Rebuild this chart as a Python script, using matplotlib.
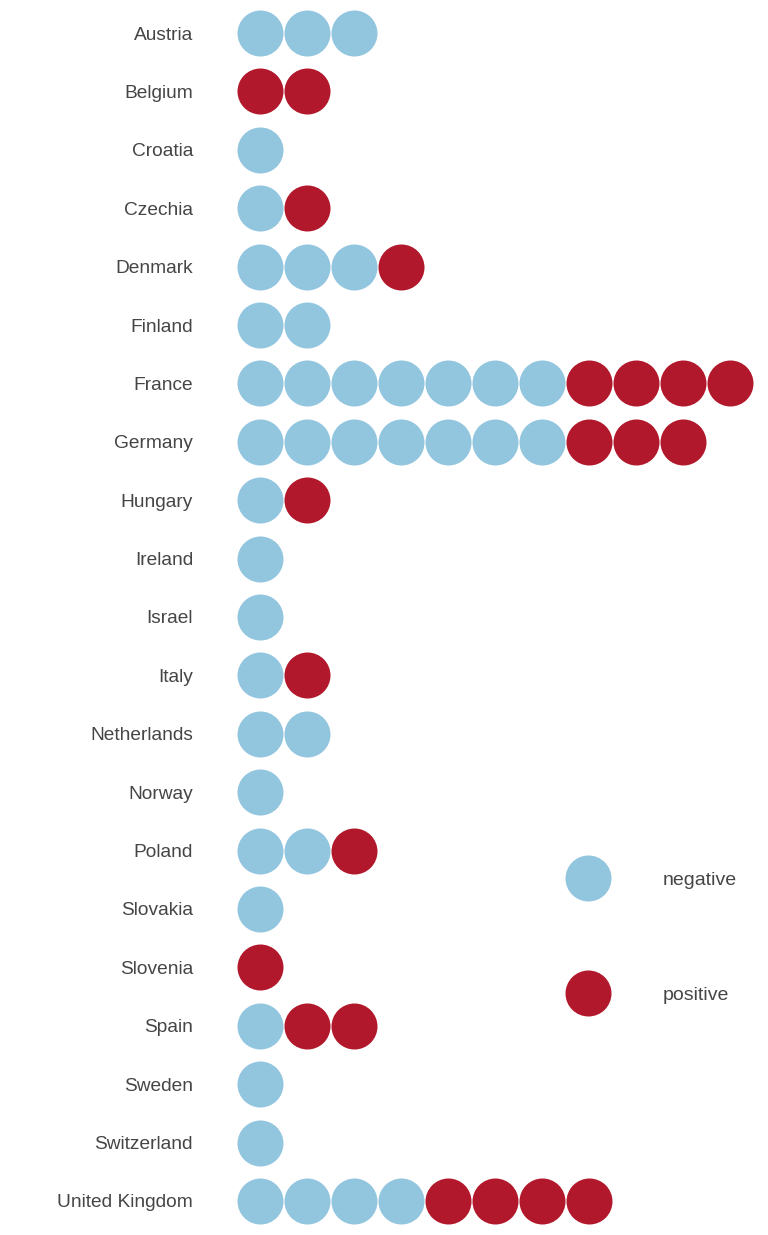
import matplotlib
matplotlib.use("Agg")
import matplotlib.pyplot as plt
from matplotlib.lines import Line2D

# counts of negative / positive per country (one circle each)
countries = ["Austria", "Belgium", "Croatia", "Czechia", "Denmark", "Finland",
             "France", "Germany", "Hungary", "Ireland", "Israel", "Italy",
             "Netherlands", "Norway", "Poland", "Slovakia", "Slovenia", "Spain",
             "Sweden", "Switzerland", "United Kingdom"]
negative = [3, 0, 1, 1, 3, 2, 7, 7, 1, 1, 1, 1, 2, 1, 2, 1, 0, 1, 1, 1, 4]
positive = [0, 2, 0, 1, 1, 0, 4, 3, 1, 0, 0, 1, 0, 0, 1, 0, 1, 2, 0, 0, 4]

NEG_COLOR = "#92C5DE"
POS_COLOR = "#B2182B"
TEXT_COLOR = "#454545"

plt.rcParams['font.family'] = ['Liberation Sans', 'DejaVu Sans']

W, H, DPI = 768, 1235, 100
fig = plt.figure(figsize=(W / DPI, H / DPI), dpi=DPI)
ax = fig.add_axes([0, 0, 1, 1])

# pixel geometry: first circle at x=260, step 47; first row at y=33, step 58.4
x0, dx = 260, 47
y0, dy = 33, 58.4
ax.set_xlim(-x0 / dx, (W - x0) / dx)
ax.set_ylim((H - y0) / dy, -y0 / dy)
ax.axis("off")

neg_x, neg_y, pos_x, pos_y = [], [], [], []
for row, (n, p) in enumerate(zip(negative, positive)):
    for i in range(n):
        neg_x.append(i)
        neg_y.append(row)
    for i in range(p):
        pos_x.append(n + i)
        pos_y.append(row)

diam_pt = 46 * 72 / DPI
ax.scatter(neg_x, neg_y, s=diam_pt ** 2, color=NEG_COLOR, linewidths=0)
ax.scatter(pos_x, pos_y, s=diam_pt ** 2, color=POS_COLOR, linewidths=0)

label_x = (193 - x0) / dx
for row, name in enumerate(countries):
    ax.text(label_x, row, name, ha="right", va="center_baseline",
            fontsize=13.8, color=TEXT_COLOR)

handles = [
    Line2D([], [], marker="o", linestyle="none", markersize=diam_pt,
           markerfacecolor=NEG_COLOR, markeredgewidth=0, label="negative"),
    Line2D([], [], marker="o", linestyle="none", markersize=diam_pt,
           markerfacecolor=POS_COLOR, markeredgewidth=0, label="positive"),
]
fs = 14
fs_px = fs * DPI / 72
leg = fig.legend(handles=handles, loc="center left",
                 bbox_to_anchor=((588 - fs_px) / W, 1 - 937.5 / H),
                 frameon=False, fontsize=fs, handlelength=2.0,
                 handletextpad=75 / fs_px - 1.0, labelspacing=5.0,
                 borderpad=0, borderaxespad=0)
for t in leg.get_texts():
    t.set_color(TEXT_COLOR)

fig.savefig("out.png", dpi=DPI)
